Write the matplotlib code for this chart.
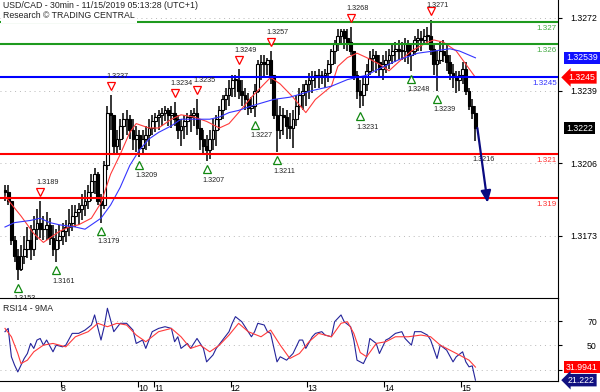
import numpy as np
import matplotlib
matplotlib.use('Agg')
import matplotlib.pyplot as plt
from matplotlib.transforms import blended_transform_factory, offset_copy

plt.rcParams['font.family'] = ['Liberation Sans', 'DejaVu Sans']

# USD/CAD bars (hourly steps), Nov 7 -> Nov 15 2019
hi = np.array([
    1.3196, 1.3196, 1.3187, 1.3173, 1.3167, 1.3169, 1.3173, 1.3177, 1.3178, 1.3182,
    1.3185, 1.3189, 1.3182, 1.3184, 1.3181, 1.3178, 1.3176, 1.3178, 1.3179, 1.3180,
    1.3185, 1.3187, 1.3187, 1.3188, 1.3192, 1.3194, 1.3196, 1.3201, 1.3204, 1.3202,
    1.3192, 1.3207, 1.3232, 1.3237, 1.3228, 1.3221, 1.3226, 1.3229, 1.3230, 1.3228,
    1.3226, 1.3223, 1.3221, 1.3221, 1.3223, 1.3226, 1.3228, 1.3229, 1.3230, 1.3231,
    1.3232, 1.3231, 1.3232, 1.3234, 1.3228, 1.3226, 1.3228, 1.3229, 1.3230, 1.3231,
    1.3235, 1.3226, 1.3221, 1.3219, 1.3221, 1.3226, 1.3228, 1.3232, 1.3237, 1.3240,
    1.3244, 1.3246, 1.3246, 1.3249, 1.3244, 1.3240, 1.3238, 1.3236, 1.3242, 1.3253,
    1.3255, 1.3255, 1.3254, 1.3257, 1.3246, 1.3235, 1.3232, 1.3231, 1.3230, 1.3229,
    1.3230, 1.3237, 1.3240, 1.3242, 1.3244, 1.3247, 1.3248, 1.3248, 1.3249, 1.3248,
    1.3249, 1.3253, 1.3258, 1.3262, 1.3267, 1.3267, 1.3267, 1.3267, 1.3268, 1.3257,
    1.3248, 1.3244, 1.3245, 1.3251, 1.3257, 1.3258, 1.3257, 1.3255, 1.3255, 1.3257,
    1.3258, 1.3260, 1.3261, 1.3262, 1.3261, 1.3263, 1.3262, 1.3260, 1.3264, 1.3267,
    1.3266, 1.3267, 1.3268, 1.3271, 1.3260, 1.3257, 1.3261, 1.3262, 1.3260, 1.3255,
    1.3251, 1.3248, 1.3248, 1.3252, 1.3252, 1.3240, 1.3235, 1.3232])
lo = np.array([
    1.3189, 1.3187, 1.3169, 1.3161, 1.3153, 1.3157, 1.3160, 1.3163, 1.3162, 1.3164,
    1.3171, 1.3172, 1.3171, 1.3171, 1.3169, 1.3164, 1.3161, 1.3167, 1.3169, 1.3170,
    1.3173, 1.3175, 1.3177, 1.3178, 1.3180, 1.3182, 1.3185, 1.3189, 1.3192, 1.3187,
    1.3179, 1.3185, 1.3203, 1.3221, 1.3210, 1.3210, 1.3212, 1.3217, 1.3219, 1.3217,
    1.3212, 1.3211, 1.3209, 1.3210, 1.3212, 1.3214, 1.3219, 1.3220, 1.3221, 1.3223,
    1.3225, 1.3223, 1.3222, 1.3223, 1.3217, 1.3214, 1.3217, 1.3219, 1.3220, 1.3223,
    1.3219, 1.3212, 1.3210, 1.3207, 1.3208, 1.3212, 1.3214, 1.3221, 1.3226, 1.3230,
    1.3232, 1.3236, 1.3236, 1.3235, 1.3232, 1.3230, 1.3228, 1.3229, 1.3227, 1.3238,
    1.3244, 1.3245, 1.3246, 1.3242, 1.3226, 1.3211, 1.3217, 1.3219, 1.3217, 1.3217,
    1.3213, 1.3223, 1.3228, 1.3230, 1.3232, 1.3235, 1.3238, 1.3240, 1.3240, 1.3242,
    1.3240, 1.3243, 1.3247, 1.3251, 1.3257, 1.3260, 1.3258, 1.3257, 1.3255, 1.3244,
    1.3235, 1.3231, 1.3232, 1.3239, 1.3246, 1.3248, 1.3247, 1.3245, 1.3244, 1.3247,
    1.3249, 1.3251, 1.3252, 1.3253, 1.3253, 1.3252, 1.3251, 1.3248, 1.3255, 1.3257,
    1.3257, 1.3260, 1.3260, 1.3255, 1.3246, 1.3239, 1.3251, 1.3252, 1.3248, 1.3244,
    1.3240, 1.3238, 1.3239, 1.3242, 1.3237, 1.3230, 1.3226, 1.3216])
cl = np.array([
    1.3193, 1.3189, 1.3171, 1.3164, 1.3158, 1.3164, 1.3167, 1.3171, 1.3167, 1.3176,
    1.3179, 1.3176, 1.3176, 1.3178, 1.3172, 1.3167, 1.3171, 1.3173, 1.3175, 1.3177,
    1.3179, 1.3182, 1.3184, 1.3185, 1.3187, 1.3189, 1.3193, 1.3198, 1.3201, 1.3189,
    1.3187, 1.3205, 1.3229, 1.3228, 1.3214, 1.3217, 1.3223, 1.3226, 1.3226, 1.3221,
    1.3217, 1.3219, 1.3213, 1.3217, 1.3219, 1.3222, 1.3225, 1.3227, 1.3228, 1.3229,
    1.3230, 1.3228, 1.3229, 1.3226, 1.3221, 1.3223, 1.3225, 1.3227, 1.3228, 1.3229,
    1.3222, 1.3217, 1.3214, 1.3212, 1.3217, 1.3221, 1.3226, 1.3230, 1.3235, 1.3237,
    1.3240, 1.3244, 1.3244, 1.3239, 1.3237, 1.3235, 1.3231, 1.3232, 1.3239, 1.3251,
    1.3252, 1.3251, 1.3253, 1.3246, 1.3228, 1.3221, 1.3228, 1.3227, 1.3223, 1.3222,
    1.3226, 1.3232, 1.3237, 1.3239, 1.3242, 1.3244, 1.3245, 1.3246, 1.3246, 1.3246,
    1.3247, 1.3251, 1.3257, 1.3260, 1.3264, 1.3266, 1.3263, 1.3261, 1.3257, 1.3246,
    1.3239, 1.3237, 1.3242, 1.3248, 1.3254, 1.3255, 1.3252, 1.3249, 1.3251, 1.3253,
    1.3255, 1.3257, 1.3258, 1.3257, 1.3257, 1.3260, 1.3255, 1.3257, 1.3262, 1.3263,
    1.3262, 1.3264, 1.3264, 1.3258, 1.3251, 1.3253, 1.3257, 1.3255, 1.3252, 1.3247,
    1.3245, 1.3244, 1.3246, 1.3249, 1.3239, 1.3232, 1.3229, 1.3222])
first_open = 1.3194

# moving averages (red = fast, blue = slow), sampled at these bars
ma_fast_bar = [0, 5, 9, 12, 14, 17, 20, 23, 27, 30, 33, 36, 39, 41, 45, 48, 52, 55, 59, 63,
               67, 70, 73, 77, 83, 86, 90, 94, 97, 102, 104, 107, 110, 113, 117, 120, 123, 127,
               132, 134, 137, 141, 143, 145, 147]
ma_fast = [1.3191, 1.3182, 1.3174, 1.3170, 1.3172, 1.3175, 1.3177, 1.3178, 1.3181, 1.3188,
           1.3201, 1.3210, 1.3220, 1.3224, 1.3222, 1.3222, 1.3226, 1.3228, 1.3227, 1.3225,
           1.3222, 1.3224, 1.3229, 1.3236, 1.3245, 1.3242, 1.3236, 1.3229, 1.3235, 1.3241,
           1.3250, 1.3254, 1.3256, 1.3254, 1.3251, 1.3248, 1.3252, 1.3257, 1.3261, 1.3262,
           1.3261, 1.3257, 1.3253, 1.3249, 1.3245]
ma_slow_bar = [0, 3, 8, 11, 14, 17, 22, 25, 28, 30, 33, 36, 39, 42, 45, 48, 52, 55, 58, 61,
               64, 67, 70, 73, 77, 84, 89, 96, 102, 107, 113, 117, 123, 129, 134, 139, 142, 147]
ma_slow = [1.3177, 1.3179, 1.3180, 1.3181, 1.3179, 1.3178, 1.3177, 1.3176, 1.3179, 1.3181,
           1.3187, 1.3195, 1.3205, 1.3212, 1.3217, 1.3220, 1.3223, 1.3226, 1.3226, 1.3226,
           1.3226, 1.3227, 1.3229, 1.3230, 1.3232, 1.3235, 1.3236, 1.3239, 1.3241, 1.3244,
           1.3246, 1.3249, 1.3253, 1.3256, 1.3257, 1.3258, 1.3257, 1.32539]

# RSI14 and its 9MA
rsi_bar = [0, 1, 2, 3, 4, 6, 7, 8, 9, 10, 11, 12, 13, 15, 16, 18, 19, 21, 23, 25,
           27, 28, 30, 31, 32, 33, 34, 36, 38, 40, 41, 43, 44, 46, 48, 50, 52, 53, 54, 55,
           57, 58, 60, 62, 63, 65, 66, 68, 70, 71, 72, 74, 75, 77, 78, 79, 81, 82, 83, 85,
           86, 88, 89, 90, 92, 93, 94, 96, 97, 99, 100, 102, 103, 105, 106, 108, 109, 110, 112, 113,
           114, 116, 117, 119, 120, 122, 124, 125, 127, 128, 130, 132, 133, 135, 136, 138, 140, 141, 143, 144,
           145, 146, 147]
rsi = [61.2, 63.9, 40.5, 33.6, 28.0, 39.1, 43.2, 51.5, 47.4, 54.3, 55.6, 50.1, 54.3, 44.6, 50.1, 48.7, 50.1, 59.8, 59.8, 62.5,
       66.7, 75.0, 54.3, 65.3, 80.5, 70.8, 61.2, 68.1, 68.1, 62.5, 51.5, 54.3, 47.4, 61.2, 63.9, 65.3, 63.9, 52.9, 57.0, 47.4,
       51.5, 47.4, 55.6, 47.4, 36.3, 42.0, 47.4, 54.3, 61.2, 68.1, 73.6, 69.4, 65.3, 57.0, 61.2, 68.1, 66.7, 61.2, 59.8, 36.3,
       40.5, 37.7, 40.5, 43.2, 54.3, 54.3, 47.4, 57.0, 59.8, 61.2, 58.4, 57.0, 69.4, 75.0, 69.4, 65.3, 54.3, 37.7, 34.9, 40.5,
       55.6, 51.5, 43.2, 54.3, 55.6, 59.8, 61.2, 55.6, 50.1, 61.2, 61.2, 58.4, 54.3, 39.1, 50.1, 46.0, 36.3, 40.5, 44.6, 36.3,
       32.2, 33.0, 21.222]
rsi_ma_bar = [0, 2, 4, 5, 7, 9, 12, 15, 19, 22, 26, 29, 32, 35, 38, 41, 44, 48, 52, 55,
              58, 61, 64, 67, 70, 73, 76, 80, 83, 86, 89, 92, 95, 98, 102, 105, 107, 109, 111, 113,
              116, 119, 122, 126, 130, 133, 136, 139, 142, 145, 147]
rsi_ma = [63.9, 57.0, 43.2, 34.9, 37.7, 44.6, 50.1, 51.5, 48.7, 57.0, 61.2, 68.1, 65.3, 68.1, 66.7, 58.4, 52.9, 61.2, 63.9, 57.0,
          47.4, 50.1, 44.6, 50.1, 58.4, 68.1, 61.2, 57.0, 62.5, 50.1, 39.1, 43.2, 52.9, 59.8, 57.0, 68.1, 69.4, 59.8, 44.0, 40.5,
          51.5, 52.9, 57.0, 57.0, 58.4, 57.0, 50.1, 46.0, 41.9, 37.7, 31.9941]

# swing markers
peak_bar = [11, 33, 53, 60, 73, 83, 108, 133]
trough_bar = [4, 16, 30, 42, 63, 78, 85, 111, 127, 135]

levels = [1.327, 1.326, 1.3245, 1.321, 1.319]
level_lbl = ['1.327', '1.326', '1.3245', '1.321', '1.319']
level_col = ['#1e9a1e', '#1e9a1e', '#0000ff', '#ff0000', '#ff0000']
level_txt = ['#44aa44', '#44aa44', '#3030ff', '#ff3030', '#ff3030']

price_ticks = [1.3272, 1.3239, 1.3206, 1.3173]
rsi_ticks = [70, 50, 30]
rsi_tick_lbl = ['70', '50', '']   # 30 sits under the RSI-MA value box
day_pos = [17.5, 41.5, 46.5, 70.5, 94.5, 118.5, 142.5]
day_lbl = ['8', '10', '11', '12', '13', '14', '15']
target = 1.3188

FS = 6.3     # axis / title text
FS_M = 5.2   # swing labels
FS_L = 5.8   # level labels
PX = 72 / 100  # points per pixel
Y_TOP = 1.328018
PX_PER_PRICE = 22000

fig = plt.figure(figsize=(6, 3.92), dpi=100)
ax = fig.add_axes([0, 94 / 392, 558 / 600, 298 / 392])
ax2 = fig.add_axes([0, 11 / 392, 558 / 600, 83 / 392])

ax.set_xlim(-1.56, 172.8)
ax.set_ylim(1.314473, Y_TOP)
ax2.set_xlim(-1.56, 172.8)
ax2.set_ylim(20.52, 88.97)

# bars
n = np.arange(len(cl))
op = np.r_[first_open, cl[:-1]]
ax.vlines(n, np.minimum(lo, np.minimum(op, cl)), np.maximum(hi, np.maximum(op, cl)),
          color='black', lw=1.1, zorder=2)
up = cl >= op
blo = np.minimum(op, cl)
bh = np.maximum(np.abs(cl - op), 0.00003)
ax.bar(n[up], bh[up], bottom=blo[up], width=0.85, color='white', edgecolor='black', lw=0.8, zorder=2)
ax.bar(n[~up], bh[~up], bottom=blo[~up], width=0.85, color='black', edgecolor='black', lw=0.8, zorder=2)

ax.plot(ma_fast_bar, ma_fast, color='#ff3b3b', lw=0.8, zorder=3)
ax.plot(ma_slow_bar, ma_slow, color='#3535ff', lw=0.8, zorder=3)

for v in price_ticks:
    ax.axhline(v, color='#b8b8b8', lw=0.7, ls=(0, (1, 4)), zorder=1)

for lv, lb, c, tc in zip(levels, level_lbl, level_col, level_txt):
    ax.axhline(lv, color=c, lw=1.5, zorder=4)
    ax.annotate(lb, (1, lv), xycoords=('axes fraction', 'data'), xytext=(-1 * PX, -6 * PX),
                textcoords='offset points', ha='right', va='center', fontsize=FS_L, color=tc, zorder=5)

# swing highs / lows
tf_up = offset_copy(ax.transData, fig=fig, y=9, units='dots')
tf_dn = offset_copy(ax.transData, fig=fig, y=-8, units='dots')
ax.plot(peak_bar, hi[peak_bar], 'v', ms=5.5, mfc='white', mec='#ff0000', mew=0.9, transform=tf_up, zorder=6)
ax.plot(trough_bar, lo[trough_bar], '^', ms=5.5, mfc='white', mec='#118811', mew=0.9, transform=tf_dn, zorder=6)
for k in peak_bar:
    room = (Y_TOP - hi[k]) * PX_PER_PRICE - 5   # keep the label inside the top edge
    ax.annotate(f'{hi[k]:.4f}', (k, hi[k]), xytext=(-4 * PX, min(18.5, room) * PX), textcoords='offset points',
                ha='left', va='center', fontsize=FS_M, color='#222222', zorder=6)
for k in trough_bar:
    ax.annotate(f'{lo[k]:.4f}', (k, lo[k]), xytext=(-4 * PX, -19 * PX), textcoords='offset points',
                ha='left', va='center', fontsize=FS_M, color='#222222', zorder=6)
last = len(cl) - 1
ax.annotate(f'{lo[last]:.4f}', (last, lo[last]), xytext=(-3 * PX, -18 * PX), textcoords='offset points',
            ha='left', va='center', fontsize=FS_M, color='#222222', zorder=6)

# projection arrow
ax.annotate('', xy=(last + 3.8, target), xytext=(last + 0.6, cl[-1]),
            arrowprops=dict(arrowstyle='-|>,head_length=0.7,head_width=0.3', color='#0a0a80',
                            lw=1.6, shrinkA=0, shrinkB=0), zorder=7)

# axes styling
for a in (ax, ax2):
    a.spines['left'].set_visible(False)
    a.yaxis.tick_right()
    a.tick_params(axis='y', direction='out', length=3, width=0.8, labelsize=FS, pad=25)
ax.spines['top'].set_visible(False)
ax.spines['bottom'].set_visible(False)
ax.set_xticks([])
ax.set_yticks(price_ticks, [f'{v:.4f}' for v in price_ticks])
for t in ax.get_yticklabels():
    t.set_ha('right')

ax2.set_yticks(rsi_ticks, rsi_tick_lbl)
for t in ax2.get_yticklabels():
    t.set_ha('right')
for v in rsi_ticks:
    ax2.axhline(v, color='#b8b8b8', lw=0.7, ls=(0, (1, 4)), zorder=1)
ax2.set_xticks(day_pos, day_lbl)
ax2.tick_params(axis='x', direction='out', length=4, width=0.8, labelsize=FS, pad=-2)
for t in ax2.get_xticklabels():
    t.set_ha('left')
ax2.plot(rsi_bar, rsi, color='#24249a', lw=0.8, zorder=3)
ax2.plot(rsi_ma_bar, rsi_ma, color='#ff3b3b', lw=0.8, zorder=3)

# value boxes on the right
yt = blended_transform_factory(ax.transAxes, ax.transData)
yt2 = blended_transform_factory(ax2.transAxes, ax2.transData)
ax.text(566 / 558, ma_slow[-1], f'{ma_slow[-1]:.5f}', transform=yt, ha='left', va='center', fontsize=FS,
        color='white', bbox=dict(boxstyle='square,pad=0.2', fc='#1010ff', ec='none'), clip_on=False)
ax.text(568 / 558, ma_fast[-1], f'{ma_fast[-1]:.4f}', transform=yt, ha='left', va='center', fontsize=FS,
        color='white', bbox=dict(boxstyle='larrow,pad=0.2', fc='#ff0000', ec='none'), clip_on=False)
ax.text(566 / 558, cl[-1], f'{cl[-1]:.4f}', transform=yt, ha='left', va='center', fontsize=FS,
        color='white', bbox=dict(boxstyle='square,pad=0.2', fc='black', ec='none'), clip_on=False)
ax2.text(566 / 558, rsi_ma[-1], f'{rsi_ma[-1]:.4f}', transform=yt2, ha='left', va='center', fontsize=FS,
         color='white', bbox=dict(boxstyle='square,pad=0.2', fc='#ff0000', ec='none'), clip_on=False)
ax2.text(568 / 558, rsi[-1], f'{rsi[-1]:.3f}', transform=yt2, ha='left', va='center', fontsize=FS,
         color='white', bbox=dict(boxstyle='larrow,pad=0.2', fc='#101080', ec='none'), clip_on=False)

fig.text(3 / 600, 1 - 6 / 392, 'USD/CAD - 30min - 11/15/2019 05:13:28 (UTC+1)', ha='left', va='center',
         fontsize=FS, color='#222222')
fig.text(3 / 600, 1 - 16 / 392, 'Research \u00a9 TRADING CENTRAL', ha='left', va='center', fontsize=FS,
         color='#222222', bbox=dict(boxstyle='square,pad=0.25', fc='white', ec='none'), zorder=10)
ax2.text(3 / 558, 0.93, 'RSI14 - 9MA', transform=ax2.transAxes, ha='left', va='top', fontsize=FS,
         color='#222222')

fig.savefig('out.png', dpi=100, facecolor='white')
